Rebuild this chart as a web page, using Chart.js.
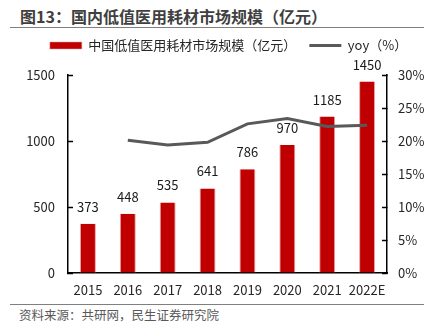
<!DOCTYPE html>
<html>
<head>
<meta charset="utf-8">
<script src="https://cdn.jsdelivr.net/npm/chart.js@4"></script>
<style>
    html, body { margin: 0; padding: 0; background: #fff; }
    body { width: 439px; height: 329px; position: relative; overflow: hidden; font-family: 'Noto Sans CJK SC', sans-serif; }
    #title { position: absolute; left: 20px; top: 5px; font-size: 16px; font-weight: bold; color: #404040; line-height: 22px; white-space: nowrap; }
    .rule { position: absolute; left: 10px; width: 414px; height: 1px; background: #7f7f7f; }
    #source { position: absolute; left: 19px; top: 306px; font-size: 12.5px; color: #595959; line-height: 18px; white-space: nowrap; }
    #wrap { position: absolute; left: 0; top: 30px; width: 439px; height: 270px; }
</style>
</head>
<body>
<div id="title">图13：国内低值医用耗材市场规模（亿元）</div>
<div class="rule" style="top:27px"></div>
<div id="wrap"><canvas id="myChart"></canvas></div>
<div class="rule" style="top:304px"></div>
<div id="source">资料来源：共研网，民生证券研究院</div>
<script>
const years = ['2015', '2016', '2017', '2018', '2019', '2020', '2021', '2022E'];
const marketSize = [373, 448, 535, 641, 786, 970, 1185, 1450];
const yoy = [null, 20.1, 19.4, 19.8, 22.6, 23.4, 22.2, 22.4];
const leftTicks = [0, 500, 1000, 1500];
const rightTicks = [0, 5, 10, 15, 20, 25, 30];

document.addEventListener('DOMContentLoaded', function() {
    const ctx = document.getElementById('myChart').getContext('2d');
    const font = "'Noto Sans CJK SC', sans-serif";

    // push chart area down so the plot starts where the reference does
    const legendHeight = {
        id: 'legendHeight',
        beforeInit(chart) {
            const fit = chart.legend.fit;
            chart.legend.fit = function() {
                fit.bind(chart.legend)();
                this.height = 49;
            };
        }
    };

    const barLabels = {
        id: 'barLabels',
        afterDatasetsDraw(chart) {
            const c = chart.ctx;
            const meta = chart.getDatasetMeta(1);
            c.save();
            c.font = '13px ' + font;
            c.fillStyle = '#1a1a1a';
            c.textAlign = 'center';
            c.textBaseline = 'middle';
            meta.data.forEach((bar, i) => {
                c.fillText(marketSize[i], bar.x, bar.y - 17);
            });
            c.restore();
        }
    };

    new Chart(ctx, {
        data: {
            labels: years,
            datasets: [{
                type: 'line',
                label: 'yoy（%）',
                data: yoy,
                yAxisID: 'y1',
                borderColor: '#595959',
                backgroundColor: '#595959',
                borderWidth: 3,
                pointRadius: 0,
                pointStyle: 'line',
                tension: 0,
                order: 0
            }, {
                type: 'bar',
                label: '中国低值医用耗材市场规模（亿元）',
                data: marketSize,
                yAxisID: 'y',
                backgroundColor: '#C00000',
                borderColor: '#e8a0a0',
                borderWidth: { left: 1, right: 1, top: 0, bottom: 0 },
                pointStyle: 'rect',
                barPercentage: 0.4,
                categoryPercentage: 1,
                order: 1
            }]
        },
        options: {
            responsive: true,
            maintainAspectRatio: false,
            animation: false,
            layout: { padding: { top: -4, left: 18, right: 0, bottom: 0 } },
            plugins: {
                legend: {
                    reverse: true,
                    labels: {
                        usePointStyle: true,
                        pointStyleWidth: 32,
                        boxHeight: 7,
                        padding: 13,
                        color: '#262626',
                        font: { family: font, size: 13 }
                    }
                },
                tooltip: { enabled: false }
            },
            scales: {
                x: {
                    grid: { display: false, drawTicks: false },
                    border: { color: '#000', width: 1.5 },
                    ticks: {
                        color: '#262626',
                        padding: 9,
                        maxRotation: 0,
                        minRotation: 0,
                        autoSkip: false,
                        font: { family: font, size: 13 }
                    },
                    afterFit(scale) { scale.height = 27; }
                },
                y: {
                    position: 'left',
                    min: 0,
                    max: 1500,
                    afterBuildTicks(scale) { scale.ticks = leftTicks.map(v => ({ value: v })); },
                    grid: { display: true, drawOnChartArea: false, tickLength: -5, color: '#000', tickWidth: 1.5 },
                    border: { color: '#000', width: 1.5 },
                    ticks: {
                        color: '#262626',
                        padding: 18,
                        font: { family: font, size: 13 },
                        callback: v => String(v)
                    },
                    afterFit(scale) { scale.width = 50; }
                },
                y1: {
                    position: 'right',
                    min: 0,
                    max: 30,
                    afterBuildTicks(scale) { scale.ticks = rightTicks.map(v => ({ value: v })); },
                    grid: { display: true, drawOnChartArea: false, tickLength: -5, color: '#000', tickWidth: 1.5 },
                    border: { color: '#000', width: 1.5 },
                    ticks: {
                        color: '#262626',
                        padding: 16,
                        font: { family: font, size: 13 },
                        callback: v => v + '%'
                    },
                    afterFit(scale) { scale.width = 52; }
                }
            }
        },
        plugins: [legendHeight, barLabels]
    });
});
</script>
</body>
</html>
